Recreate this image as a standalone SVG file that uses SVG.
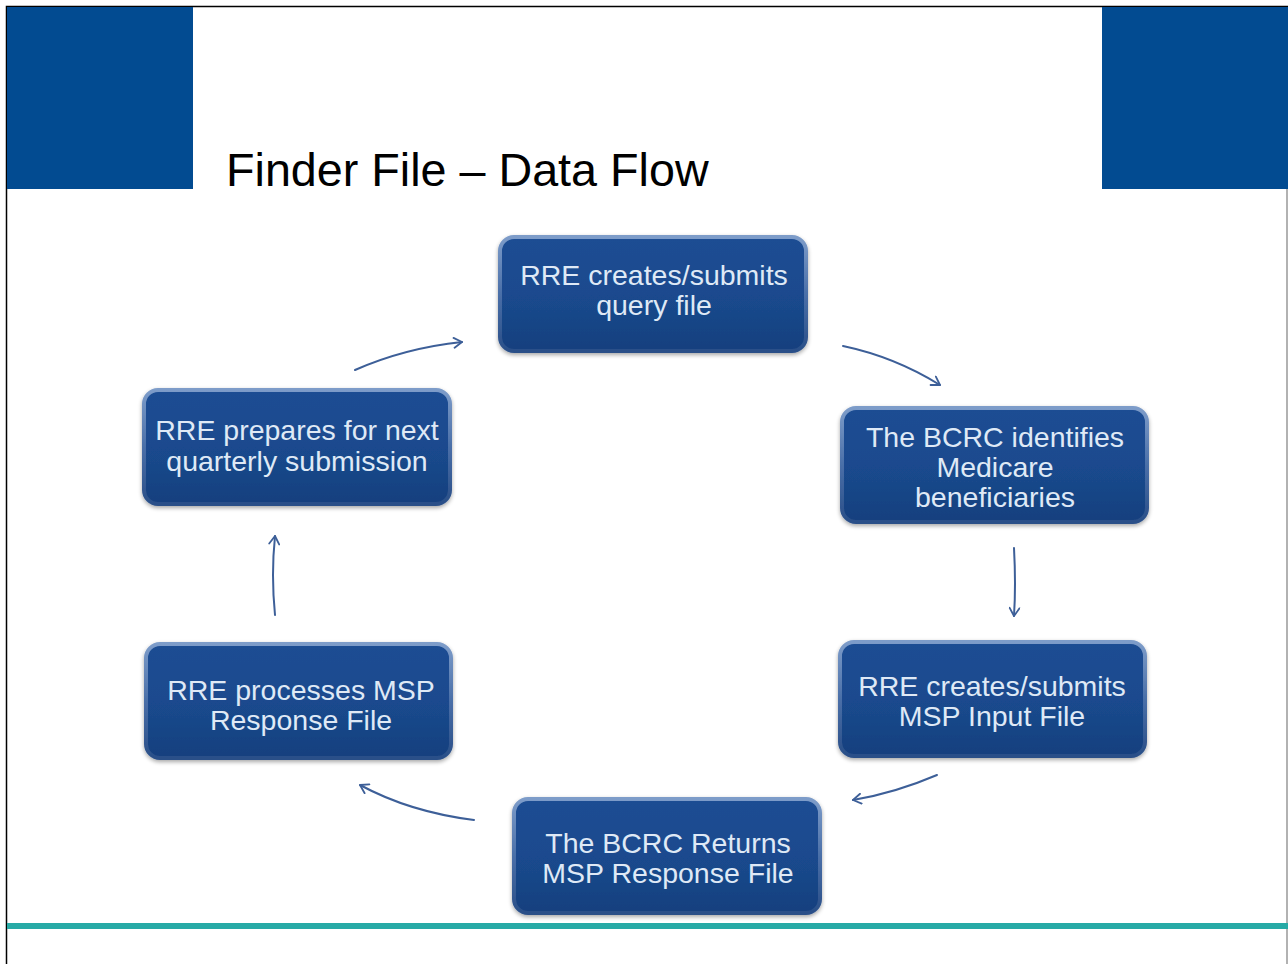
<svg xmlns="http://www.w3.org/2000/svg" width="1288" height="964" viewBox="0 0 1288 964">
<defs>
<linearGradient id="nodeFill" x1="0" y1="0" x2="0" y2="1">
<stop offset="0" stop-color="#1c4d93"/>
<stop offset="0.5" stop-color="#1a4a8e"/>
<stop offset="1" stop-color="#17407e"/>
</linearGradient>
<linearGradient id="nodeEdge" x1="0" y1="0" x2="0" y2="1">
<stop offset="0" stop-color="#7d9cc9"/>
<stop offset="0.5" stop-color="#4a6fa8"/>
<stop offset="1" stop-color="#2a4f88"/>
</linearGradient>
<filter id="shadow" x="-10%" y="-10%" width="120%" height="130%">
<feGaussianBlur in="SourceAlpha" stdDeviation="2"/>
<feOffset dx="0" dy="2" result="b"/>
<feComponentTransfer><feFuncA type="linear" slope="0.35"/></feComponentTransfer>
<feMerge><feMergeNode/><feMergeNode in="SourceGraphic"/></feMerge>
</filter>
<marker id="arr" viewBox="0 0 12 12" refX="10" refY="6" markerWidth="12" markerHeight="12" markerUnits="userSpaceOnUse" orient="auto">
<path d="M2,1 L10,6 L2,11" fill="none" stroke="#3d5f98" stroke-width="1.8" stroke-linecap="round" stroke-linejoin="round"/>
</marker>
</defs>
<style>
.box{fill:url(#nodeFill);stroke:url(#nodeEdge);stroke-width:4;filter:url(#shadow)}
.lbl{font-family:"Liberation Sans","Open Sans",Arial,sans-serif;font-size:28.5px;fill:#dfe9f6;text-anchor:middle}
.title{font-family:"Liberation Sans","Open Sans",Arial,sans-serif;font-size:46.7px;fill:#000}
.conn{fill:none;stroke:#3d5f98;stroke-width:2;stroke-linecap:round;marker-end:url(#arr)}
</style>
<rect x="0" y="0" width="1288" height="964" fill="#ffffff"/>
<!-- frame -->
<path d="M6.5,964 V6.5 H1288" fill="none" stroke="#000" stroke-width="1.5"/>
<line x1="1287" y1="189" x2="1287" y2="964" stroke="#999" stroke-width="1.5"/>
<rect x="7" y="7" width="186" height="182" fill="#024b91"/>
<rect x="1102" y="7" width="186" height="182" fill="#024b91"/>
<text class="title" x="226" y="186">Finder File – Data Flow</text>
<rect x="7" y="923" width="1281" height="6" fill="#27aaa6"/>

<g id="connectors">
<path class="conn" d="M355,370 Q405,348 462,342"/>
<path class="conn" d="M843,346 Q895,357 940,385"/>
<path class="conn" d="M1014,548 Q1016,585 1014,616"/>
<path class="conn" d="M937,775 Q895,793 853,800"/>
<path class="conn" d="M474,820 Q410,812 360,785"/>
<path class="conn" d="M275,615 Q271,575 275,536"/>
</g>

<g id="n1">
<rect class="box" x="500" y="237" width="306" height="114" rx="14"/>
<text class="lbl" x="654" y="285">RRE creates/submits</text>
<text class="lbl" x="654" y="315">query file</text>
</g>
<g id="n2">
<rect class="box" x="842" y="408" width="305" height="114" rx="14"/>
<text class="lbl" x="995" y="447">The BCRC identifies</text>
<text class="lbl" x="995" y="477">Medicare</text>
<text class="lbl" x="995" y="507">beneficiaries</text>
</g>
<g id="n3">
<rect class="box" x="840" y="642" width="305" height="114" rx="14"/>
<text class="lbl" x="992" y="696">RRE creates/submits</text>
<text class="lbl" x="992" y="726">MSP Input File</text>
</g>
<g id="n4">
<rect class="box" x="514" y="799" width="306" height="114" rx="14"/>
<text class="lbl" x="668" y="853">The BCRC Returns</text>
<text class="lbl" x="668" y="883">MSP Response File</text>
</g>
<g id="n5">
<rect class="box" x="146" y="644" width="305" height="114" rx="14"/>
<text class="lbl" x="301" y="700">RRE processes MSP</text>
<text class="lbl" x="301" y="730">Response File</text>
</g>
<g id="n6">
<rect class="box" x="144" y="390" width="306" height="114" rx="14"/>
<text class="lbl" x="297" y="440">RRE prepares for next</text>
<text class="lbl" x="297" y="471">quarterly submission</text>
</g>
</svg>
